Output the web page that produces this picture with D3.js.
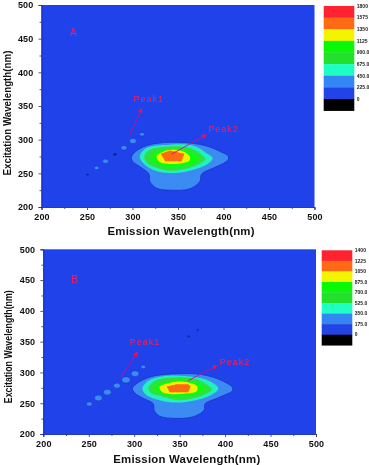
<!DOCTYPE html>
<html>
<head>
<meta charset="utf-8">
<script src="https://d3js.org/d3.v7.min.js"></script>
<style>
  html, body { margin: 0; padding: 0; background: #fff; }
  svg { display: block; filter: blur(0.4px); }
  text { font-family: "Liberation Sans", Arial, sans-serif; }
</style>
</head>
<body>
<div id="chart"></div>
<script>
// contours are [emission, excitation] in nm
var contourA225 = [[299,275],[306,285],[319,292.5],[341,296],[363,295],[383,290],[397,282],[405,276],[405,270],[400,265],[389,258],[376,249],[374,238],[363,227],[341,225],[326.5,228],[319,238],[318,249],[308,260],[300,268]];
var contourA450 = [[308,275],[315.5,287.5],[341,292.5],[367,291],[381.5,280],[388,272.5],[381.5,263],[363,254],[341,250.5],[323,255],[312,265]];
var contourA675 = [[313,275],[319,285],[341,290],[363,287.5],[376,277.6],[380,271],[372,263],[359.5,257],[341,254],[325,259],[315.5,266]];
var contourA900 = [[321,275],[330,284],[343,286.5],[359.5,284],[370.5,276],[373,271],[365,263],[341,259],[328,263],[321,269]];
var contourA1125 = [[326.5,275],[334,282.5],[343,285],[356,282.5],[363,275],[362.5,268.7],[354,265],[341,264],[330,266.7]];
var contourA1350 = [[331,279],[341,284],[357,279],[354,268],[336,268]];

var contourB175 = [[298,274],[306,285],[321,294],[343,297.5],[369,297.5],[387,292],[400,284],[408,276],[408,270],[402,265],[391,258],[378,249],[377,239],[365,228],[343,225.5],[328,229],[322,238],[321,249],[310,258],[301,266]];
var contourB350 = [[309,274],[315.5,286.6],[332,294],[358,294],[380,287.7],[392.5,274],[383,262],[365,254],[346.7,251],[328,255],[313.7,263]];
var contourB525 = [[315.5,274],[323,286.6],[346.7,292],[368.7,289],[383,277],[386,272.5],[376,263],[350,255],[332,260.6],[319,266]];
var contourB700 = [[321.7,274],[332,283],[348.5,287.7],[367,284],[378,274],[369,265],[348.5,260.6],[332,265]];
var contourB875 = [[328,277],[339,283],[354,285],[369,278],[369,270],[359.5,266],[339,265],[330,269]];
var contourB1050 = [[335.7,277],[346.7,281],[359.5,281],[362,277],[359.5,267.7],[339,267.7]];

// scattering spots along the diagonal: emission, excitation, peak intensity
var spotEmA = [250.6,260.5,270.4,280.7,290.6,300.5,310.4];
var spotExA = [248,258,268,278,288,298,308];
var spotPeakA = [60,300,440,120,480,620,300];
var spotEmB = [250.6,260.5,270.4,281,291,301,310,360,370];
var spotExB = [248.7,258.5,268,278.5,288,298,309,358.6,369];
var spotPeakB = [440,800,800,620,900,800,300,60,60];

var legendA = [1800,1575,1350,1125,900,675,450,225,0];
var legendLabelsA = ['1800','1575','1350','1125','900.0','675.0','450.0','225.0','0'];
var legendB = [1400,1225,1050,875,700,525,350,175,0];
var legendLabelsB = ['1400','1225','1050','875.0','700.0','525.0','350.0','175.0','0'];

var bandColors = ['#ff2230','#ff6a14','#f4f400','#08f808','#22e02c','#1effc4','#3386f4','#2244e6','#000000'];
var contourColors = ['#3a8cf2','#22f0c0','#30e03c','#0cfc10','#f2f200','#ff6a14'];

var axisMajor = [200,250,300,350,400,450,500];
var axisMinor = [225,275,325,375,425,475];

var panels = [
  {
    box: {left: 41.5, right: 314.5, top: 5, bottom: 207},
    contours: [contourA225, contourA450, contourA675, contourA900, contourA1125, contourA1350],
    spotEm: spotEmA, spotEx: spotExA, spotPeak: spotPeakA,
    legend: legendA, legendLabels: legendLabelsA,
    legendBox: {left: 323.7, right: 354.3, top: 6, zero: 99},
    letter: {t: 'A', em: 235, ex: 459},
    peak1: {em: 318, ex: 360, from: [297,307], to: [310,346]},
    peak2: {em: 400, ex: 316.7, from: [343,278.6], to: [381,307]},
    xLabel: {x: 181, y: 235, size: 11.4},
    yLabel: {x: 10.5, y: 113, len: 125}
  },
  {
    box: {left: 43.3, right: 316, top: 249.3, bottom: 434},
    contours: [contourB175, contourB350, contourB525, contourB700, contourB875, contourB1050],
    spotEm: spotEmB, spotEx: spotExB, spotPeak: spotPeakB,
    legend: legendB, legendLabels: legendLabelsB,
    legendBox: {left: 321.7, right: 352.3, top: 250.3, zero: 334.7},
    letter: {t: 'B', em: 234.5, ex: 450.7},
    peak1: {em: 312, ex: 349, from: [285.4,292], to: [303.4,332.6]},
    peak2: {em: 411, ex: 318, from: [359.5,286.6], to: [390.7,311]},
    xLabel: {x: 186.7, y: 462.5, size: 11.4},
    yLabel: {x: 12, y: 346.7, len: 113}
  }
];

var svg = d3.select('#chart')
  .append('svg')
  .attr('width', 369)
  .attr('height', 465);

var defs = svg.append('defs');
defs.append('marker')
  .attr('id', 'head')
  .attr('viewBox', '0 0 10 10')
  .attr('refX', 8)
  .attr('refY', 5)
  .attr('markerWidth', 5)
  .attr('markerHeight', 5)
  .attr('markerUnits', 'userSpaceOnUse')
  .attr('orient', 'auto')
  .append('path')
  .attr('d', 'M0,0L10,5L0,10Z')
  .attr('fill', '#f01050');

panels.forEach(function(p) {
  var b = p.box;
  var x = d3.scaleLinear().domain([200, 500]).range([b.left, b.right]);
  var y = d3.scaleLinear().domain([200, 500]).range([b.bottom, b.top]);
  var g = svg.append('g');

  g.append('rect')
    .attr('x', b.left)
    .attr('y', b.top)
    .attr('width', b.right - b.left)
    .attr('height', b.bottom - b.top)
    .attr('fill', '#1f42ea');

  // filled contours, lowest first
  var smooth = d3.line()
    .x(function(d) {return x(d[0]);})
    .y(function(d) {return y(d[1]);})
    .curve(d3.curveCatmullRomClosed.alpha(0.5));
  var sharp = d3.line()
    .x(function(d) {return x(d[0]);})
    .y(function(d) {return y(d[1]);})
    .curve(d3.curveLinearClosed);

  g.selectAll('.contour')
    .data(p.contours)
    .enter()
    .append('path')
    .attr('class', 'contour')
    .attr('d', function(d, i) {return i === p.contours.length - 1 ? sharp(d) : smooth(d);})
    .attr('fill', function(d, i) {return contourColors[i];})
    .attr('stroke', function(d, i) {return i === 0 ? '#1a30c8' : 'none';})
    .attr('stroke-width', 0.8);

  var radius = d3.scaleSqrt().domain([0, 800]).range([0, 4]);
  g.selectAll('.spot')
    .data(p.spotPeak)
    .enter()
    .append('ellipse')
    .attr('class', 'spot')
    .attr('cx', function(d, i) {return x(p.spotEm[i]);})
    .attr('cy', function(d, i) {return y(p.spotEx[i]);})
    .attr('rx', function(d) {return radius(d);})
    .attr('ry', function(d) {return radius(d) * 0.75;})
    .attr('fill', function(d) {return d < 150 ? '#0e1a88' : '#3a8cf2';})
    .attr('stroke', '#1a30c8')
    .attr('stroke-width', 0.6);

  // axes: labelled ticks plus short unlabelled ones between them
  var xMajor = d3.axisBottom(x).tickValues(axisMajor).tickSize(3).tickPadding(4).tickFormat(d3.format('d'));
  var xMinor = d3.axisBottom(x).tickValues(axisMinor).tickSize(2).tickFormat('');
  var yMajor = d3.axisLeft(y).tickValues(axisMajor).tickSize(3).tickPadding(5).tickFormat(d3.format('d'));
  var yMinor = d3.axisLeft(y).tickValues(axisMinor).tickSize(2).tickFormat('');

  [[xMajor, 'translate(0,' + b.bottom + ')'], [xMinor, 'translate(0,' + b.bottom + ')'],
   [yMajor, 'translate(' + b.left + ',0)'], [yMinor, 'translate(' + b.left + ',0)']].forEach(function(a) {
    var ax = g.append('g').attr('transform', a[1]).call(a[0]);
    ax.selectAll('text')
      .style('font-size', '9px')
      .style('font-weight', 'bold')
      .style('letter-spacing', '0.2px')
      .attr('fill', '#111');
    ax.select('.domain').attr('stroke', '#1a30c8').attr('stroke-width', 0.8);
    ax.selectAll('line').attr('stroke', '#334').attr('stroke-width', 0.8);
  });

  g.append('text')
    .attr('x', p.xLabel.x)
    .attr('y', p.xLabel.y)
    .attr('text-anchor', 'middle')
    .attr('textLength', 147)
    .attr('lengthAdjust', 'spacing')
    .style('font-size', p.xLabel.size + 'px')
    .style('font-weight', 'bold')
    .attr('fill', '#111')
    .text('Emission Wavelength(nm)');

  g.append('text')
    .attr('transform', 'translate(' + p.yLabel.x + ',' + p.yLabel.y + ') rotate(-90)')
    .attr('text-anchor', 'middle')
    .attr('textLength', p.yLabel.len)
    .attr('lengthAdjust', 'spacingAndGlyphs')
    .style('font-size', '11px')
    .style('font-weight', 'bold')
    .attr('fill', '#111')
    .text('Excitation Wavelength(nm)');

  // annotations
  [p.peak1, p.peak2].forEach(function(a, i) {
    g.append('line')
      .attr('x1', x(a.from[0]))
      .attr('y1', y(a.from[1]))
      .attr('x2', x(a.to[0]))
      .attr('y2', y(a.to[1]))
      .attr('stroke', '#c81090')
      .attr('stroke-width', 0.9)
      .attr('marker-end', 'url(#head)');
    g.append('text')
      .attr('x', x(a.em))
      .attr('y', y(a.ex))
      .attr('dy', '0.35em')
      .attr('text-anchor', 'middle')
      .style('font-size', '9px')
      .style('letter-spacing', '1px')
      .attr('fill', '#f5205a')
      .text('Peak' + (i + 1));
  });

  g.append('text')
    .attr('x', x(p.letter.em))
    .attr('y', y(p.letter.ex))
    .attr('dy', '0.35em')
    .attr('text-anchor', 'middle')
    .style('font-size', '10px')
    .attr('fill', '#f5205a')
    .text(p.letter.t);

  // colour legend: one band per level, black band sits under the zero label
  var lb = p.legendBox;
  var step = p.legend[0] - p.legend[1];
  var ly = d3.scaleLinear().domain([0, p.legend[0]]).range([lb.zero, lb.top]);
  g.selectAll('.band')
    .data(p.legend)
    .enter()
    .append('rect')
    .attr('class', 'band')
    .attr('x', lb.left)
    .attr('y', function(d) {return ly(d);})
    .attr('width', lb.right - lb.left)
    .attr('height', ly(0) - ly(step) + 0.3)
    .attr('fill', function(d, i) {return bandColors[i];});
  g.selectAll('.bandlabel')
    .data(p.legend)
    .enter()
    .append('text')
    .attr('class', 'bandlabel')
    .attr('x', lb.right + 2.5)
    .attr('y', function(d) {return ly(d);})
    .attr('dy', '0.35em')
    .style('font-size', '5px')
    .style('font-weight', 'bold')
    .attr('fill', '#222')
    .text(function(d, i) {return p.legendLabels[i];});
});
</script>
</body>
</html>
